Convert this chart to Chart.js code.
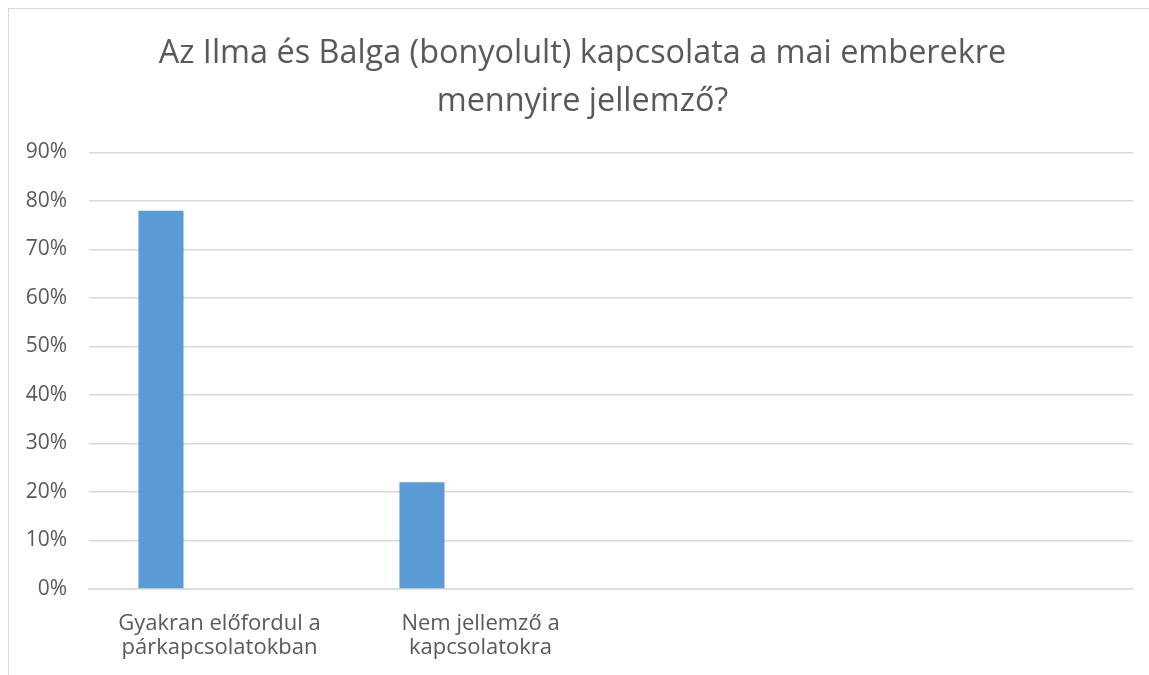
<!doctype html>
<html>
<head>
    <meta charset="utf-8">
    <title>Az Ilma és Balga kapcsolata</title>
    <script src="https://cdn.jsdelivr.net/npm/chart.js@4/dist/chart.umd.min.js"></script>
    <style>
    html, body { margin: 0; padding: 0; background: #fff; }
    #frame {
        position: absolute; left: 8px; top: 8px; width: 1141px; height: 667px;
        border-left: 1px solid #d9d9d9; border-top: 1px solid #d9d9d9;
        box-sizing: border-box;
    }
    #wrap { position: absolute; left: 0; top: 0; width: 1149px; height: 675px; }
    </style>
</head>
<body>
    <div id="frame"></div>
    <div id="wrap"><canvas id="canvas"></canvas></div>
    <script>
        // chart data
        var categories = [
            ["Gyakran előfordul a", "párkapcsolatokban"],
            ["Nem jellemző a", "kapcsolatokra"],
            "",
            ""
        ];
        var shares = [0.78, 0.22, null, null];
        // the source sheet had a second, empty series next to the first one
        var emptySeries = [null, null, null, null];
        var titleLines = ["Az Ilma és Balga (bonyolult) kapcsolata a mai emberekre", "mennyire jellemző?"];

        var grey = '#595959';
        Chart.defaults.font.family = '"Open Sans", sans-serif';
        Chart.defaults.color = grey;

        // the title sits a bit right of the canvas centre, so draw it by hand
        var titlePlugin = {
            id: 'offsetTitle',
            afterDraw: function (chart) {
                var c = chart.ctx;
                c.save();
                c.fillStyle = grey;
                c.font = '32.4px "Open Sans", sans-serif';
                c.textAlign = 'center';
                c.textBaseline = 'alphabetic';
                titleLines.forEach(function (line, i) {
                    c.fillText(line, 582.5, 63 + i * 48);
                });
                c.restore();
            }
        };

        var ctx = document.getElementById("canvas").getContext("2d");
        new Chart(ctx, {
            type: 'bar',
            data: {
                labels: categories,
                datasets: [{
                    data: shares,
                    backgroundColor: '#5b9bd5'
                }, {
                    data: emptySeries,
                    backgroundColor: '#ed7d31'
                }]
            },
            plugins: [titlePlugin],
            options: {
                responsive: true,
                maintainAspectRatio: false,
                animation: false,
                datasets: { bar: { categoryPercentage: 0.897, barPercentage: 0.385 } },
                layout: { padding: { left: 0, right: 16, top: 152.5, bottom: 4 } },
                plugins: {
                    legend: { display: false },
                    tooltip: { enabled: false },
                    title: { display: false }
                },
                scales: {
                    x: {
                        grid: { display: false },
                        border: { color: '#d9d9d9', width: 1.5 },
                        ticks: { font: { size: 22, lineHeight: 1.12 }, maxRotation: 0, autoSkip: false, padding: 14 },
                        afterFit: function (s) { s.height = 82; }
                    },
                    y: {
                        min: 0,
                        max: 0.9,
                        border: { display: false },
                        grid: { color: '#d9d9d9', lineWidth: 1.5, drawTicks: false },
                        ticks: {
                            stepSize: 0.1,
                            font: { size: 21 },
                            padding: 22,
                            callback: function (v) { return Math.round(v * 100) + '%'; }
                        },
                        afterFit: function (s) { s.width = 89; }
                    }
                }
            }
        });
    </script>
</body>
</html>
